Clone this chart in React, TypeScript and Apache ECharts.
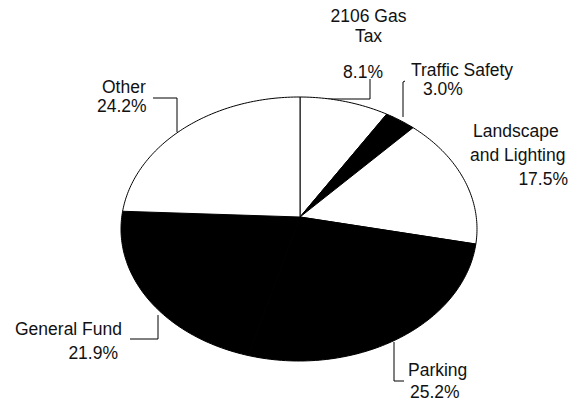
import React, { useEffect, useRef } from "react";
import * as echarts from "echarts";

// ---- data ----
const categories = ["2106 Gas Tax", "Traffic Safety", "Landscape and Lighting", "Parking", "General Fund", "Other"];
const shares = [8.1, 3.0, 17.5, 25.2, 21.9, 24.2];
const nameLines = [["2106 Gas", "Tax", ""], ["Traffic Safety"], ["Landscape", "and Lighting"], ["Parking"], ["General Fund"], ["Other"]];

// ---- styles / layout ----
const sliceColors = ["#ffffff", "#000000", "#ffffff", "#000000", "#000000", "#ffffff"];
const FONT = "'Liberation Sans', Arial, sans-serif";
const FONT_SIZE = 17.5;
const APEX = { x: 300, y: 217 };
const CENTER = { x: 299, y: 229 };
const RX = 178;
const RY = 132;
const K = 118 / 178;

// per category: positions of each text line (name lines then percent) and leader line
const labelLayout = [
  { lines: [[368.5, 15.5, "center"], [368.5, 36, "center"], [0, 0, "center"], [363, 72, "center"]], leader: [[370, 79], [370, 99], [300, 99]] },
  { lines: [[411, 69.5, "left"], [423, 88.5, "left"]], leader: [[405, 81], [403, 82], [403, 117]] },
  { lines: [[473, 130.5, "left"], [470, 155, "left"], [568, 178.5, "right"]], leader: null },
  { lines: [[408, 370, "left"], [410, 392, "left"]], leader: [[394, 342], [394, 381], [404, 381]] },
  { lines: [[15, 328.5, "left"], [118, 352.5, "right"]], leader: [[130, 339], [158, 339], [158, 315]] },
  { lines: [[102, 86.5, "left"], [97, 106, "left"]], leader: [[153, 98], [177, 98], [177, 132]] },
];

function rim(theta: number): number[] {
  const dx = Math.sin(theta);
  const dy = -Math.cos(theta) * K;
  const ox = (APEX.x - CENTER.x) / RX;
  const oy = (APEX.y - CENTER.y) / RY;
  const ux = dx / RX;
  const uy = dy / RY;
  const a = ux * ux + uy * uy;
  const b = 2 * (ox * ux + oy * uy);
  const c = ox * ox + oy * oy - 1;
  const t = (-b + Math.sqrt(b * b - 4 * a * c)) / (2 * a);
  return [APEX.x + dx * t, APEX.y + dy * t];
}

export default function App() {
  const ref = useRef<HTMLDivElement>(null);
  useEffect(() => {
    if (!ref.current) return;
    const chart = echarts.init(ref.current, null, { renderer: "svg" });
    const total = shares.reduce((s, v) => s + v, 0);
    const cum: number[] = [];
    let acc = 0;
    shares.forEach((v) => {
      cum.push(acc);
      acc += v;
    });

    const graphics: any[] = [];
    categories.forEach((_, i) => {
      const lay = labelLayout[i];
      const texts = [...nameLines[i], shares[i].toFixed(1) + "%"];
      texts.forEach((t, j) => {
        if (!t) return;
        const [x, y, align] = lay.lines[j] as [number, number, string];
        graphics.push({
          type: "text",
          x,
          y,
          style: {
            text: t,
            fill: "#111",
            font: `${FONT_SIZE}px ${FONT}`,
            textAlign: align,
            textVerticalAlign: "middle",
          },
        });
      });
      if (lay.leader) {
        graphics.push({
          type: "polyline",
          shape: { points: lay.leader },
          style: { stroke: "#000", lineWidth: 1, fill: "none" },
        });
      }
    });

    chart.setOption({
      animation: false,
      backgroundColor: "#fff",
      series: [
        {
          type: "custom",
          coordinateSystem: "none",
          data: shares.map((v, i) => ({ value: [v], name: categories[i] })),
          renderItem: (params: any, api: any) => {
            const i = params.dataIndex;
            const v = api.value(0);
            const a0 = (cum[i] / total) * Math.PI * 2;
            const a1 = ((cum[i] + v) / total) * Math.PI * 2;
            const pts: number[][] = [[APEX.x, APEX.y]];
            const steps = Math.max(4, Math.ceil(((a1 - a0) * 180) / Math.PI));
            for (let s = 0; s <= steps; s++) {
              pts.push(rim(a0 + ((a1 - a0) * s) / steps));
            }
            return {
              type: "polygon",
              shape: { points: pts },
              style: { fill: sliceColors[i], stroke: "#000", lineWidth: 1, lineJoin: "miter" },
            };
          },
        },
      ],
      graphic: { elements: graphics },
    });
    return () => chart.dispose();
  }, []);
  return (
    <div
      ref={ref}
      style={{ position: "absolute", left: 0, top: 0, width: 576, height: 404, background: "#fff" }}
    />
  );
}
